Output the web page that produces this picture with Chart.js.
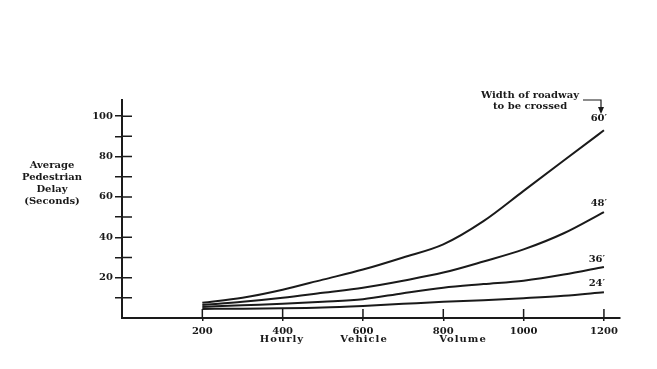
<!DOCTYPE html>
<html>
<head>
<meta charset="utf-8">
<script src="https://cdn.jsdelivr.net/npm/chart.js@4/dist/chart.umd.min.js"></script>
<style>
  html, body { margin: 0; padding: 0; background: #fff; }
  #wrap { width: 657px; height: 369px; }
</style>
</head>
<body>
<div id="wrap"><canvas id="chart" width="657" height="369"></canvas></div>
<script>
// hourly vehicle volume (x) and average pedestrian delay in seconds (y)
const volume = [200, 300, 400, 500, 600, 700, 800, 900, 1000, 1100, 1200];
const delay60 = [7.5, 10, 14, 19, 24, 30, 36.5, 48, 63, 78, 93];
const delay48 = [6.5, 8, 10, 12.5, 15, 18.5, 22.5, 28, 34, 42, 52.5];
const delay36 = [5.5, 6.3, 7, 8, 9.3, 12.3, 15, 16.8, 18.5, 21.5, 25.3];
const delay24 = [4.5, 4.6, 4.8, 5.2, 6, 7, 8, 8.8, 9.8, 11, 12.8];
const widthLabels = ['60′', '48′', '36′', '24′'];
const yTicks = [0, 10, 20, 30, 40, 50, 60, 70, 80, 90, 100];
const yTickLabels = [20, 40, 60, 80, 100];
const xTicks = [0, 200, 400, 600, 800, 1000, 1200];
const xTickLabels = [200, 400, 600, 800, 1000, 1200];

const FONT = '"DejaVu Serif", serif';
const INK = '#1a1a1a';

function pts(ys) {
  return volume.map((v, i) => ({ x: v, y: ys[i] }));
}

function lineSet(label, ys) {
  return {
    label, data: pts(ys),
    borderColor: INK, borderWidth: 2,
    pointRadius: 0, fill: false,
    cubicInterpolationMode: 'monotone'
  };
}

// inner tick halves, curve labels and free text
const decor = {
  id: 'decor',
  afterDraw(chart) {
    const { ctx, chartArea: a, scales: { x, y } } = chart;
    ctx.save();
    ctx.strokeStyle = INK;
    ctx.lineWidth = 1.5;
    ctx.beginPath();
    yTicks.filter(v => v > 0).forEach(v => {
      const py = y.getPixelForValue(v);
      ctx.moveTo(a.left, py); ctx.lineTo(a.left + 10, py);
    });
    xTickLabels.forEach(v => {
      const px = x.getPixelForValue(v);
      ctx.moveTo(px, a.bottom); ctx.lineTo(px, a.bottom - 9);
    });
    ctx.stroke();

    ctx.fillStyle = INK;
    ctx.font = 'bold 10px ' + FONT;
    ctx.textAlign = 'center';
    ctx.textBaseline = 'middle';
    const offs = [[-5, -12], [-5, -9], [-7, -8], [-7, -9]];
    chart.data.datasets.forEach((ds, i) => {
      const pts = chart.getDatasetMeta(i).data;
      const p = pts[pts.length - 1];
      ctx.fillText(widthLabels[i], p.x + offs[i][0], p.y + offs[i][1]);
    });

    // y axis title, horizontal block
    ['Average', 'Pedestrian', 'Delay', '(Seconds)'].forEach((t, i) => {
      ctx.fillText(t, 52, 165 + i * 12.3);
    });

    // x axis title, spaced words
    ctx.letterSpacing = '1px';
    ctx.fillText('Hourly', 282, 339);
    ctx.fillText('Vehicle', 364, 339);
    ctx.fillText('Volume', 463, 339);

    // roadway note and arrow
    ctx.letterSpacing = '0px';
    ctx.fillText('Width of roadway', 530, 95);
    ctx.fillText('to be crossed', 530, 106);
    ctx.lineWidth = 1.2;
    ctx.beginPath();
    ctx.moveTo(583, 100); ctx.lineTo(601, 100); ctx.lineTo(601, 110);
    ctx.stroke();
    ctx.beginPath();
    ctx.moveTo(598, 107); ctx.lineTo(604, 107); ctx.lineTo(601, 114);
    ctx.closePath(); ctx.fill();
    ctx.restore();
  }
};

new Chart(document.getElementById('chart'), {
  type: 'line',
  data: {
    datasets: [
      lineSet('60 ft', delay60),
      lineSet('48 ft', delay48),
      lineSet('36 ft', delay36),
      lineSet('24 ft', delay24)
    ]
  },
  options: {
    responsive: false,
    animation: false,
    layout: { padding: { top: 100, right: 37, left: 0, bottom: 0 } },
    plugins: { legend: { display: false }, tooltip: { enabled: false } },
    scales: {
      x: {
        type: 'linear', min: 0, max: 1240,
        afterBuildTicks: s => { s.ticks = xTicks.map(v => ({ value: v })); },
        afterFit: s => { s.height = 51; },
        border: { display: true, color: INK, width: 2 },
        grid: {
          drawOnChartArea: false, tickLength: 3, lineWidth: 1.5,
          color: c => (c.tick && c.tick.value === 0) ? 'rgba(0,0,0,0)' : INK
        },
        ticks: {
          padding: 4, autoSkip: false,
          color: INK, font: { family: FONT, size: 10, weight: 'bold' },
          maxRotation: 0,
          callback: v => xTickLabels.includes(v) ? String(v) : ''
        }
      },
      y: {
        min: 0, max: 108,
        afterBuildTicks: s => { s.ticks = yTicks.map(v => ({ value: v })); },
        afterFit: s => { s.width = 122; },
        border: { display: true, color: INK, width: 2 },
        grid: {
          drawOnChartArea: false, tickLength: 7, lineWidth: 1.5,
          color: c => (c.tick && c.tick.value === 0) ? 'rgba(0,0,0,0)' : INK
        },
        ticks: {
          padding: 2, autoSkip: false,
          color: INK, font: { family: FONT, size: 10, weight: 'bold' },
          callback: v => yTickLabels.includes(v) ? String(v) : ''
        }
      }
    }
  },
  plugins: [decor]
});
</script>
</body>
</html>
